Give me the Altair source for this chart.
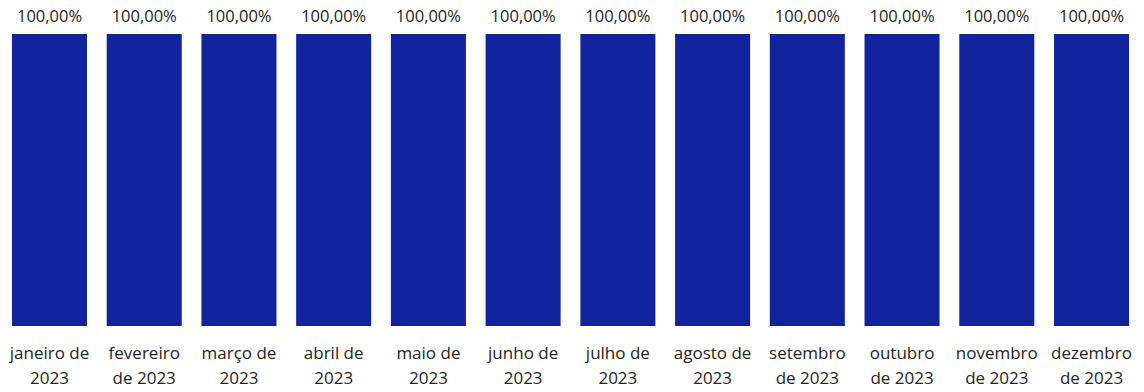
import json
import altair as alt
import pandas as pd

months = ["janeiro de 2023", "fevereiro de 2023", "março de 2023", "abril de 2023",
          "maio de 2023", "junho de 2023", "julho de 2023", "agosto de 2023",
          "setembro de 2023", "outubro de 2023", "novembro de 2023", "dezembro de 2023"]
label_lines = [["janeiro de", "2023"], ["fevereiro", "de 2023"], ["março de", "2023"],
               ["abril de", "2023"], ["maio de", "2023"], ["junho de", "2023"],
               ["julho de", "2023"], ["agosto de", "2023"], ["setembro", "de 2023"],
               ["outubro", "de 2023"], ["novembro", "de 2023"], ["dezembro", "de 2023"]]
values = [1.0] * 12
value_labels = ["100,00%"] * 12

df = pd.DataFrame({"mes": months, "valor": values, "rotulo": value_labels})
mapping = json.dumps(dict(zip(months, label_lines)), ensure_ascii=False)

FONT = "Open Sans"
TXT = "#252423"
BAR = "#12239E"

x = alt.X("mes:N", sort=months, title=None,
          scale=alt.Scale(paddingInner=0.208, paddingOuter=0.042),
          axis=alt.Axis(labelAngle=0, domain=False, ticks=False, labelPadding=19,
                        labelFont=FONT, labelFontSize=17, labelColor=TXT,
                        labelLineHeight=25, labelExpr=mapping + "[datum.label]"))
y = alt.Y("valor:Q", scale=alt.Scale(domain=[0, 1]), axis=None)

bars = alt.Chart(df).mark_bar(color=BAR).encode(x=x, y=y)
text = alt.Chart(df).mark_text(font=FONT, fontSize=16.5, color=TXT, baseline="alphabetic", dy=-12).encode(
    x=alt.X("mes:N", sort=months), y=y, text="rotulo:N")

chart = (bars + text).properties(
    width=1125, height=292,
    autosize=alt.AutoSizeParams(type="none"),
    padding={"left": 0, "top": 26, "right": 0, "bottom": 66},
).configure_view(stroke=None)

chart.save("out.html", embed_options={"renderer": "svg", "actions": False})
